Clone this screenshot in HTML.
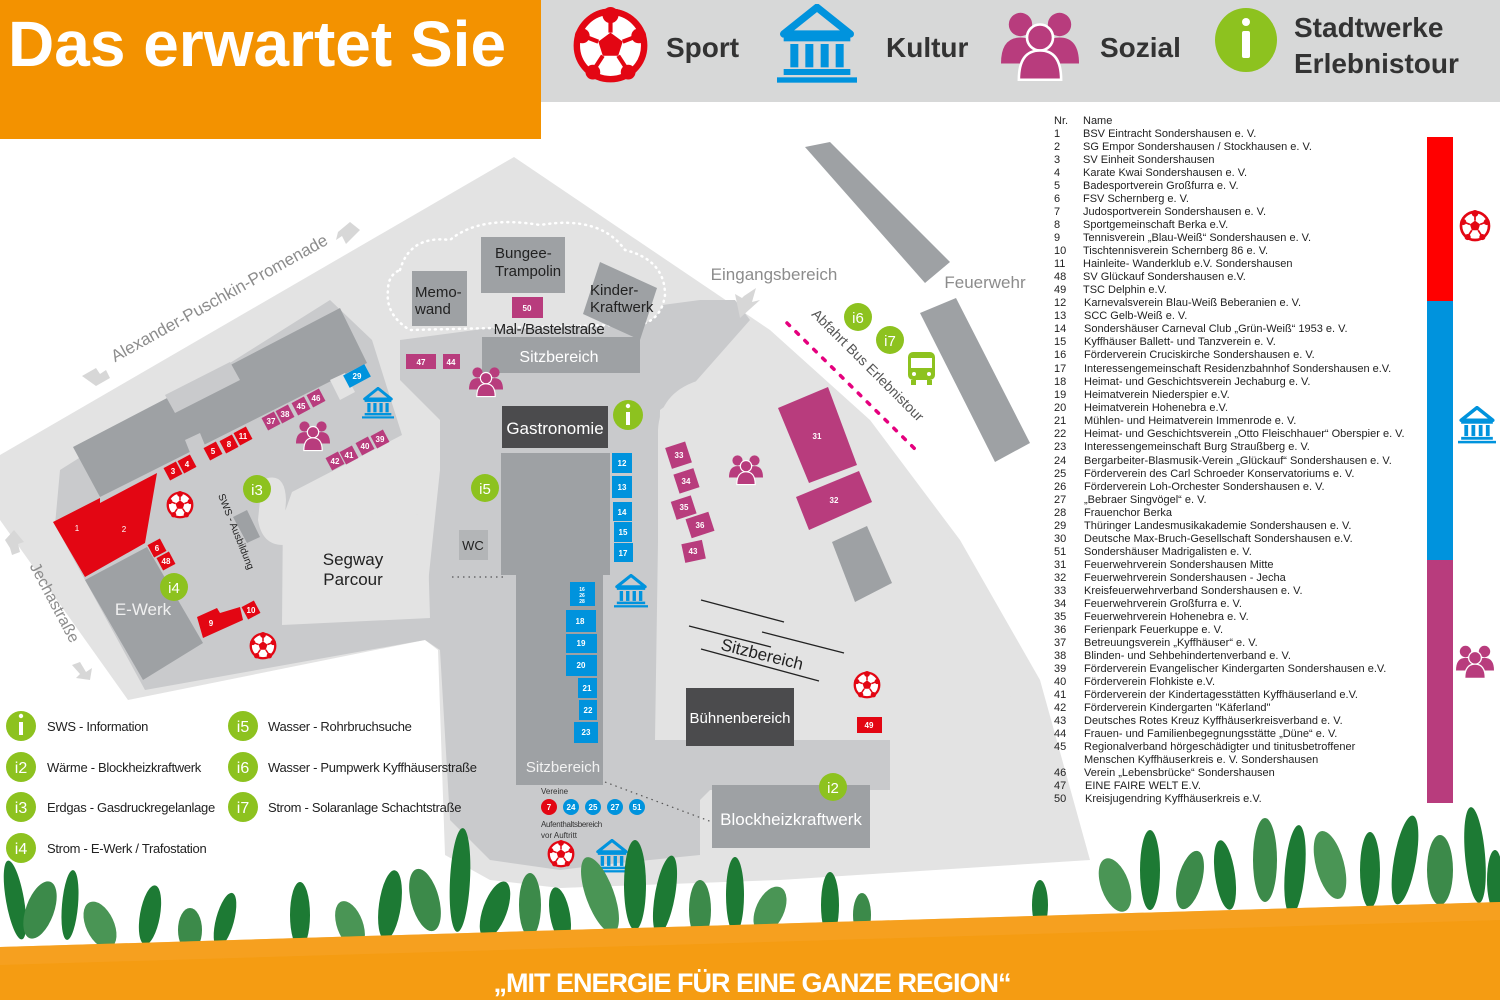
<!DOCTYPE html>
<html><head><meta charset="utf-8"><style>
html,body{margin:0;padding:0;background:#fff}
svg{display:block}
text{font-family:"Liberation Sans",sans-serif}
.l{font-size:11px;fill:#222;letter-spacing:0px}
.w{fill:#fff}
.n{font-size:8px;fill:#fff;text-anchor:middle;font-weight:bold}
.lg{font-size:13px;fill:#222;letter-spacing:-0.3px}
.h{font-size:28px;font-weight:bold;fill:#333}
</style></head><body>
<svg width="1500" height="1000" viewBox="0 0 1500 1000" xmlns="http://www.w3.org/2000/svg">
<defs>
<symbol id="ball" viewBox="-12 -12 24 24"><circle r="10.5" fill="#fff" stroke="#e30613" stroke-width="2"/><polygon points="0,-4 3.8,-1.2 2.4,3.2 -2.4,3.2 -3.8,-1.2" fill="#e30613"/><path d="M0,-4V-9M3.8,-1.2L8.5,-3M2.4,3.2L5.5,8M-2.4,3.2L-5.5,8M-3.8,-1.2L-8.5,-3" stroke="#e30613" stroke-width="1.3"/><circle cx="0" cy="-9.5" r="2.5" fill="#e30613"/><circle cx="8.8" cy="-3" r="2.3" fill="#e30613"/><circle cx="-8.8" cy="-3" r="2.3" fill="#e30613"/><circle cx="5.5" cy="8.3" r="2.3" fill="#e30613"/><circle cx="-5.5" cy="8.3" r="2.3" fill="#e30613"/></symbol>
<symbol id="mus" viewBox="-12 -12 24 24"><path d="M0,-11L-10,-3H10Z" fill="none" stroke="#0093dd" stroke-width="2.2" stroke-linejoin="round"/><rect x="-10" y="-3" width="20" height="2.2" fill="#0093dd"/><rect x="-8" y="0" width="2.4" height="7" fill="#0093dd"/><rect x="-3.5" y="0" width="2.4" height="7" fill="#0093dd"/><rect x="1.1" y="0" width="2.4" height="7" fill="#0093dd"/><rect x="5.6" y="0" width="2.4" height="7" fill="#0093dd"/><rect x="-10" y="7.5" width="20" height="1.8" fill="#0093dd"/><rect x="-12" y="10" width="24" height="1.6" fill="#0093dd"/></symbol>
<symbol id="grp" viewBox="-12 -12 24 24"><circle cx="-6" cy="-6" r="3.6" fill="#b83c7d"/><circle cx="6" cy="-6" r="3.6" fill="#b83c7d"/><path d="M-12,6Q-12,-2 -6,-2Q0,-2 0,6Z" fill="#b83c7d"/><path d="M0,6Q0,-2 6,-2Q12,-2 12,6Z" fill="#b83c7d"/><circle cx="0" cy="-2" r="4" fill="#b83c7d" stroke="#fff" stroke-width="0.8"/><path d="M-6.5,11Q-6.5,2 0,2Q6.5,2 6.5,11Z" fill="#b83c7d" stroke="#fff" stroke-width="0.8"/></symbol>
</defs>

<polygon points="0,455 514,157 770,330 870,420 960,540 1040,680 1090,860 780,880 560,888 490,880 445,855 438,650 425,640 128,700 0,520" fill="#e3e3e3"/>
<g fill="#c9cacc">
<polygon points="60,470 330,300 372,340 402,435 292,492 282,520 285,605 425,612 440,470 440,420 400,380 400,340 700,300 735,300 750,320 690,388 660,410 655,740 890,740 890,790 710,790 700,800 700,855 600,865 560,870 490,860 450,820 440,650 425,640 145,690 55,525"/>
</g>
<path d="M658,430 Q660,392 700,380 L770,345 L870,425 L955,545 L1030,690 L885,740 L700,740 Q658,740 658,700 Z" fill="#e3e3e3"/>
<polygon points="283,510 427,515 430,618 282,625" fill="#e3e3e3"/>
<path d="M262,480 Q285,470 286,500 L283,545 Q262,545 258,520Z" fill="#e3e3e3"/>
<path d="M400,270 Q410,235 450,240 Q480,215 540,225 Q600,215 625,250 Q665,260 665,295 Q660,330 620,325 L410,330 Q385,315 388,290 Q388,275 400,270Z" fill="#e3e3e3" stroke="#fff" stroke-width="2.5" stroke-dasharray="1 5" stroke-linecap="round"/>
<g fill="#9ea1a4">
<polygon points="73,447 340,308 367,363 100,497"/>
<polygon points="805,147 830,142 950,262 925,283"/>
<polygon points="920,313 956,298 1030,443 995,462"/>
<polygon points="832,542 867,526 892,583 855,602"/>
<polygon points="85,580 147,547 203,643 143,680"/>
<polygon points="233,517 247,510 260,537 247,543"/>
<rect x="412" y="271" width="55" height="55"/>
<rect x="481" y="237" width="84" height="56"/>
<polygon points="600,262 657,288 640,340 583,314"/>
<rect x="482" y="337" width="158" height="36"/>
<rect x="459" y="530" width="29" height="30" fill="#b3b5b7"/>
<polygon points="501,453 610,453 610,575 603,575 603,785 516,785 516,575 501,575"/>
<rect x="712" y="785" width="158" height="63"/>
</g>
<polygon points="165,395 230,362 240,380 175,413" fill="#c9cacc"/>
<polygon points="185,440 200,433 215,470 200,478" fill="#c9cacc"/>
<polygon points="330,380 345,373 355,392 340,400" fill="#e3e3e3"/>
<rect x="502" y="406" width="106" height="42" fill="#4b4b4d"/>
<rect x="686" y="688" width="108" height="58" fill="#4b4b4d"/>
<g fill="#e30613">
<polygon points="53,522 100,498 100,503 157,473 145,543 85,577"/>
<polygon points="197,617 217,608 220,613 240,607 243,620 203,638"/>
<rect x="857" y="717" width="25" height="16"/>
</g>
<g fill="#e30613">
<rect x="166" y="464" width="14" height="14" transform="rotate(-28 173 471)"/>
<rect x="180" y="457" width="14" height="14" transform="rotate(-28 187 464)"/>
<rect x="206" y="444" width="14" height="14" transform="rotate(-28 213 451)"/>
<rect x="222" y="437" width="14" height="14" transform="rotate(-28 229 444)"/>
<rect x="236" y="429" width="14" height="14" transform="rotate(-28 243 436)"/>
<rect x="150" y="541" width="14" height="14" transform="rotate(-28 157 548)"/>
<rect x="159" y="554" width="14" height="14" transform="rotate(-28 166 561)"/>
<rect x="244" y="603" width="14" height="14" transform="rotate(-28 251 610)"/>
</g>
<g class="n">
<text x="77" y="531" font-weight="normal">1</text><text x="124" y="532" font-weight="normal">2</text>
<text x="173" y="474">3</text><text x="187" y="467">4</text><text x="213" y="454">5</text><text x="229" y="447">8</text><text x="243" y="439">11</text><text x="157" y="551">6</text><text x="166" y="564">48</text><text x="211" y="626">9</text><text x="251" y="613">10</text><text x="869" y="728">49</text>
</g>
<g fill="#b83c7d">
<rect x="264" y="414" width="14" height="14" transform="rotate(-28 271 421)"/>
<rect x="278" y="407" width="14" height="14" transform="rotate(-28 285 414)"/>
<rect x="294" y="399" width="14" height="14" transform="rotate(-28 301 406)"/>
<rect x="309" y="391" width="14" height="14" transform="rotate(-28 316 398)"/>
<rect x="328" y="454" width="14" height="14" transform="rotate(-28 335 461)"/>
<rect x="342" y="448" width="14" height="14" transform="rotate(-28 349 455)"/>
<rect x="358" y="439" width="14" height="14" transform="rotate(-28 365 446)"/>
<rect x="373" y="432" width="14" height="14" transform="rotate(-28 380 439)"/>
<rect x="512" y="297" width="31" height="21"/>
<rect x="406" y="354" width="30" height="15"/>
<rect x="443" y="354" width="17" height="15"/>
<rect x="668" y="444" width="21" height="22" transform="rotate(-18 679 455)"/>
<rect x="676" y="471" width="21" height="20" transform="rotate(-18 686 481)"/>
<rect x="673" y="498" width="21" height="19" transform="rotate(-18 684 507)"/>
<rect x="688" y="515" width="24" height="20" transform="rotate(-18 700 525)"/>
<rect x="683" y="542" width="21" height="19" transform="rotate(-12 693 551)"/>
<polygon points="778,408 828,387 857,465 809,483"/>
<polygon points="796,497 859,471 872,502 809,530"/>
</g>
<g class="n">
<text x="271" y="424">37</text><text x="285" y="417">38</text><text x="301" y="409">45</text><text x="316" y="401">46</text><text x="335" y="464">42</text><text x="349" y="458">41</text><text x="365" y="449">40</text><text x="380" y="442">39</text>
<text x="527" y="311">50</text><text x="421" y="365">47</text><text x="451" y="365">44</text>
<text x="679" y="458">33</text><text x="686" y="484">34</text><text x="684" y="510">35</text><text x="700" y="528">36</text><text x="693" y="554">43</text>
<text x="817" y="439">31</text><text x="834" y="503">32</text>
</g>
<g fill="#0093dd">
<rect x="345" y="369" width="24" height="14" transform="rotate(-28 357 376)"/>
<rect x="612" y="453" width="20" height="20"/><rect x="612" y="476" width="20" height="22"/><rect x="613" y="502" width="19" height="19"/><rect x="614" y="522" width="18" height="20"/><rect x="614" y="543" width="19" height="19"/>
<rect x="570" y="582" width="25" height="24"/><rect x="566" y="610" width="30" height="22"/><rect x="566" y="634" width="31" height="19"/><rect x="566" y="655" width="31" height="21"/><rect x="578" y="678" width="19" height="20"/><rect x="579" y="700" width="18" height="20"/><rect x="574" y="722" width="24" height="21"/>
</g>
<g class="n" font-weight="normal">
<text x="357" y="379">29</text><text x="622" y="466">12</text><text x="622" y="490">13</text><text x="622" y="515">14</text><text x="623" y="535">15</text><text x="623" y="556">17</text>
<text x="582" y="591" font-size="5">16</text><text x="582" y="597" font-size="5">26</text><text x="582" y="603" font-size="5">28</text>
<text x="580" y="624">18</text><text x="581" y="646">19</text><text x="581" y="668">20</text><text x="587" y="691">21</text><text x="588" y="713">22</text><text x="586" y="735">23</text>
</g>
<circle cx="549" cy="807" r="8" fill="#e30613"/><circle cx="571" cy="807" r="8" fill="#0093dd"/><circle cx="593" cy="807" r="8" fill="#0093dd"/><circle cx="615" cy="807" r="8" fill="#0093dd"/><circle cx="637" cy="807" r="8" fill="#0093dd"/>
<g class="n"><text x="549" y="810">7</text><text x="571" y="810">24</text><text x="593" y="810">25</text><text x="615" y="810">27</text><text x="637" y="810">51</text></g>
<text x="541" y="794" font-size="8" fill="#333">Vereine</text>
<text x="541" y="827" font-size="8" fill="#333" letter-spacing="-0.3">Aufenthaltsbereich</text>
<text x="541" y="838" font-size="8" fill="#333">vor Auftritt</text>
<g stroke="#222" stroke-width="1.3"><line x1="701" y1="600" x2="784" y2="622"/><line x1="689" y1="626" x2="771" y2="647"/><line x1="762" y1="632" x2="844" y2="653"/><line x1="701" y1="649" x2="819" y2="681"/></g>
<line x1="452" y1="577" x2="505" y2="577" stroke="#555" stroke-width="1.2" stroke-dasharray="1.5 4"/>
<line x1="605" y1="782" x2="712" y2="822" stroke="#555" stroke-width="1.2" stroke-dasharray="1.5 4"/>
<line x1="787" y1="323" x2="918" y2="452" stroke="#e5007e" stroke-width="3.5" stroke-dasharray="3.5 9" stroke-linecap="round"/>
<g fill="#222" font-size="15">
<text x="415" y="297">Memo-</text><text x="415" y="314">wand</text>
<text x="495" y="258">Bungee-</text><text x="495" y="276">Trampolin</text>
<text x="590" y="295">Kinder-</text><text x="590" y="312">Kraftwerk</text>
<text x="549" y="334" text-anchor="middle" letter-spacing="-0.4">Mal-/Bastelstraße</text>
<text x="473" y="550" font-size="13" text-anchor="middle">WC</text>
<text x="353" y="565" font-size="17" text-anchor="middle">Segway</text><text x="353" y="585" font-size="17" text-anchor="middle">Parcour</text>
<text x="762" y="660" font-size="17" text-anchor="middle" transform="rotate(14 762 655)">Sitzbereich</text>
<text x="235" y="530" font-size="10" text-anchor="middle" transform="rotate(68 232 530)">SWS - Ausbildung</text>
</g>
<g fill="#fff">
<text x="559" y="362" font-size="16" text-anchor="middle">Sitzbereich</text>
<text x="555" y="434" font-size="17" text-anchor="middle">Gastronomie</text>
<text x="563" y="772" font-size="15" text-anchor="middle" fill="#f2f2f2">Sitzbereich</text>
<text x="740" y="723" font-size="15" text-anchor="middle">Bühnenbereich</text>
<text x="791" y="825" font-size="17" text-anchor="middle">Blockheizkraftwerk</text>
<text x="143" y="615" font-size="17" text-anchor="middle" fill="#f0f0f0">E-Werk</text>
</g>
<g fill="#8c8c8c" font-size="17">
<text x="774" y="280" text-anchor="middle">Eingangsbereich</text>
<text x="985" y="288" text-anchor="middle">Feuerwehr</text>
<text x="222" y="303" text-anchor="middle" transform="rotate(-29 222 303)">Alexander-Puschkin-Promenade</text>
<text x="50" y="605" font-size="16" text-anchor="middle" transform="rotate(62 50 605)">Jechastraße</text>
</g>
<text x="868" y="370" font-size="14" fill="#555" text-anchor="middle" transform="rotate(45 868 365)">Abfahrt Bus Erlebnistour</text>
<g fill="#d7d7d7">
<polygon points="744,296 756,288 752,302 760,300 740,318 735,294 742,298"/>
<polygon points="338,232 350,222 360,230 346,244 342,236 336,240"/>
<polygon points="82,376 96,368 100,374 106,370 110,378 96,386"/>
<polygon points="5,540 14,530 24,542 18,544 20,552 12,555 10,548"/>
<polygon points="72,665 80,662 86,672 92,668 90,680 76,678 80,674"/>
</g>
<use href="#ball" x="166" y="491" width="28" height="28"/>
<use href="#ball" x="249" y="632" width="28" height="28"/>
<use href="#ball" x="853" y="671" width="28" height="28"/>
<use href="#ball" x="547" y="840" width="28" height="28"/>
<use href="#mus" x="362" y="387" width="32" height="32"/>
<use href="#mus" x="614" y="574" width="34" height="34"/>
<use href="#mus" x="595" y="839" width="34" height="34"/>
<use href="#grp" x="296" y="418" width="34" height="34"/>
<use href="#grp" x="469" y="364" width="34" height="34"/>
<use href="#grp" x="729" y="452" width="34" height="34"/>
<g fill="#8dc21f">
<circle cx="257" cy="489" r="14"/><circle cx="174" cy="587" r="14"/><circle cx="485" cy="488" r="14"/><circle cx="628" cy="415" r="15"/><circle cx="858" cy="317" r="14"/><circle cx="890" cy="340" r="14"/><circle cx="833" cy="787" r="14"/>
</g>
<g fill="#fff" font-size="15" text-anchor="middle"><text x="257" y="495">i3</text><text x="174" y="593">i4</text><text x="485" y="494">i5</text><text x="858" y="323">i6</text><text x="890" y="346">i7</text><text x="833" y="793">i2</text></g>
<rect x="626" y="412" width="4" height="13" fill="#fff"/><circle cx="628" cy="406" r="2.2" fill="#fff"/>
<g fill="#8dc21f"><rect x="908" y="352" width="27" height="28" rx="5"/></g>
<rect x="911" y="358" width="21" height="10" fill="#fff"/><circle cx="914" cy="374" r="2" fill="#fff"/><circle cx="929" cy="374" r="2" fill="#fff"/>
<rect x="911" y="380" width="5" height="5" fill="#8dc21f"/><rect x="927" y="380" width="5" height="5" fill="#8dc21f"/>

<g fill="#8dc21f"><circle cx="21" cy="726" r="15"/><circle cx="21" cy="767" r="15"/><circle cx="21" cy="807" r="15"/><circle cx="21" cy="848" r="15"/><circle cx="243" cy="726" r="15"/><circle cx="243" cy="767" r="15"/><circle cx="243" cy="807" r="15"/></g>
<rect x="19" y="722" width="4" height="13" fill="#fff"/><circle cx="21" cy="716" r="2.2" fill="#fff"/>
<g fill="#fff" font-size="16" text-anchor="middle"><text x="21" y="773">i2</text><text x="21" y="813">i3</text><text x="21" y="854">i4</text><text x="243" y="732">i5</text><text x="243" y="773">i6</text><text x="243" y="813">i7</text></g>
<g class="lg">
<text x="47" y="731">SWS - Information</text><text x="47" y="772">Wärme - Blockheizkraftwerk</text><text x="47" y="812">Erdgas - Gasdruckregelanlage</text><text x="47" y="853">Strom - E-Werk / Trafostation</text>
<text x="268" y="731">Wasser - Rohrbruchsuche</text><text x="268" y="772">Wasser - Pumpwerk Kyffhäuserstraße</text><text x="268" y="812">Strom - Solaranlage Schachtstraße</text>
</g>

<g class="l">
<text x="1054" y="124">Nr.</text><text x="1083" y="124">Name</text>
<text x="1054" y="137">1</text><text x="1083" y="137">BSV Eintracht Sondershausen e. V.</text>
<text x="1054" y="150">2</text><text x="1083" y="150">SG Empor Sondershausen / Stockhausen e. V.</text>
<text x="1054" y="163">3</text><text x="1083" y="163">SV Einheit Sondershausen</text>
<text x="1054" y="176">4</text><text x="1083" y="176">Karate Kwai Sondershausen e. V.</text>
<text x="1054" y="189">5</text><text x="1083" y="189">Badesportverein Großfurra e. V.</text>
<text x="1054" y="202">6</text><text x="1083" y="202">FSV Schernberg e. V.</text>
<text x="1054" y="215">7</text><text x="1083" y="215">Judosportverein Sondershausen e. V.</text>
<text x="1054" y="228">8</text><text x="1083" y="228">Sportgemeinschaft Berka e.V.</text>
<text x="1054" y="241">9</text><text x="1083" y="241">Tennisverein „Blau-Weiß“ Sondershausen e. V.</text>
<text x="1054" y="254">10</text><text x="1083" y="254">Tischtennisverein Schernberg 86 e. V.</text>
<text x="1054" y="267">11</text><text x="1083" y="267">Hainleite- Wanderklub e.V. Sondershausen</text>
<text x="1054" y="280">48</text><text x="1083" y="280">SV Glückauf Sondershausen e.V.</text>
<text x="1054" y="293">49</text><text x="1083" y="293">TSC Delphin e.V.</text>
<text x="1054" y="306">12</text><text x="1084" y="306">Karnevalsverein Blau-Weiß Beberanien e. V.</text>
<text x="1054" y="319">13</text><text x="1084" y="319">SCC Gelb-Weiß e. V.</text>
<text x="1054" y="332">14</text><text x="1084" y="332">Sondershäuser Carneval Club „Grün-Weiß“ 1953 e. V.</text>
<text x="1054" y="345">15</text><text x="1084" y="345">Kyffhäuser Ballett- und Tanzverein e. V.</text>
<text x="1054" y="358">16</text><text x="1084" y="358">Förderverein Cruciskirche Sondershausen e. V.</text>
<text x="1054" y="372">17</text><text x="1084" y="372">Interessengemeinschaft Residenzbahnhof Sondershausen e.V.</text>
<text x="1054" y="385">18</text><text x="1084" y="385">Heimat- und Geschichtsverein Jechaburg e. V.</text>
<text x="1054" y="398">19</text><text x="1084" y="398">Heimatverein Niederspier e.V.</text>
<text x="1054" y="411">20</text><text x="1084" y="411">Heimatverein Hohenebra e.V.</text>
<text x="1054" y="424">21</text><text x="1084" y="424">Mühlen- und Heimatverein Immenrode e. V.</text>
<text x="1054" y="437">22</text><text x="1084" y="437">Heimat- und Geschichtsverein „Otto Fleischhauer“ Oberspier e. V.</text>
<text x="1054" y="450">23</text><text x="1084" y="450">Interessengemeinschaft Burg Straußberg e. V.</text>
<text x="1054" y="464">24</text><text x="1084" y="464">Bergarbeiter-Blasmusik-Verein „Glückauf“ Sondershausen e. V.</text>
<text x="1054" y="477">25</text><text x="1084" y="477">Förderverein des Carl Schroeder Konservatoriums e. V.</text>
<text x="1054" y="490">26</text><text x="1084" y="490">Förderverein Loh-Orchester Sondershausen e. V.</text>
<text x="1054" y="503">27</text><text x="1084" y="503">„Bebraer Singvögel“ e. V.</text>
<text x="1054" y="516">28</text><text x="1084" y="516">Frauenchor Berka</text>
<text x="1054" y="529">29</text><text x="1084" y="529">Thüringer Landesmusikakademie Sondershausen e. V.</text>
<text x="1054" y="542">30</text><text x="1084" y="542">Deutsche Max-Bruch-Gesellschaft Sondershausen e.V.</text>
<text x="1054" y="555">51</text><text x="1084" y="555">Sondershäuser Madrigalisten e. V.</text>
<text x="1054" y="568">31</text><text x="1084" y="568">Feuerwehrverein Sondershausen Mitte</text>
<text x="1054" y="581">32</text><text x="1084" y="581">Feuerwehrverein Sondershausen - Jecha</text>
<text x="1054" y="594">33</text><text x="1084" y="594">Kreisfeuerwehrverband Sondershausen e. V.</text>
<text x="1054" y="607">34</text><text x="1084" y="607">Feuerwehrverein Großfurra e. V.</text>
<text x="1054" y="620">35</text><text x="1084" y="620">Feuerwehrverein Hohenebra e. V.</text>
<text x="1054" y="633">36</text><text x="1084" y="633">Ferienpark Feuerkuppe e. V.</text>
<text x="1054" y="646">37</text><text x="1084" y="646">Betreuungsverein „Kyffhäuser“ e. V.</text>
<text x="1054" y="659">38</text><text x="1084" y="659">Blinden- und Sehbehindertenverband e. V.</text>
<text x="1054" y="672">39</text><text x="1084" y="672">Förderverein Evangelischer Kindergarten Sondershausen e.V.</text>
<text x="1054" y="685">40</text><text x="1084" y="685">Förderverein Flohkiste e.V.</text>
<text x="1054" y="698">41</text><text x="1084" y="698">Förderverein der Kindertagesstätten Kyffhäuserland e.V.</text>
<text x="1054" y="711">42</text><text x="1084" y="711">Förderverein Kindergarten "Käferland"</text>
<text x="1054" y="724">43</text><text x="1084" y="724">Deutsches Rotes Kreuz Kyffhäuserkreisverband e. V.</text>
<text x="1054" y="737">44</text><text x="1084" y="737">Frauen- und Familienbegegnungsstätte „Düne“ e. V.</text>
<text x="1054" y="750">45</text><text x="1084" y="750">Regionalverband hörgeschädigter und tinitusbetroffener</text>
<text x="1084" y="763">Menschen Kyffhäuserkreis e. V. Sondershausen</text>
<text x="1054" y="776">46</text><text x="1084" y="776">Verein „Lebensbrücke“ Sondershausen</text>
<text x="1054" y="789">47</text><text x="1085" y="789">EINE FAIRE WELT E.V.</text>
<text x="1054" y="802">50</text><text x="1085" y="802">Kreisjugendring Kyffhäuserkreis e.V.</text>
</g>
<rect x="1427" y="137" width="26" height="164" fill="#ff0000"/>
<rect x="1427" y="301" width="26" height="259" fill="#0093dd"/>
<rect x="1427" y="560" width="26" height="243" fill="#b83c7d"/>
<use href="#ball" x="1459" y="210" width="32" height="32"/>
<use href="#mus" x="1458" y="406" width="38" height="38"/>
<use href="#grp" x="1456" y="642" width="38" height="38"/>

<rect x="540" y="0" width="960" height="102" fill="#d7d8d8"/>
<rect x="0" y="0" width="541" height="139" fill="#f39200"/>
<text x="8" y="66" font-size="64" font-weight="bold" fill="#fff" letter-spacing="0">Das erwartet Sie</text>
<ellipse cx="610" cy="45" rx="34" ry="35" fill="#fff" stroke="#e30613" stroke-width="3"/>
<use href="#ball" x="572" y="7" width="77" height="77"/>
<text x="666" y="57" class="h">Sport</text>
<use href="#mus" x="770" y="4" width="94" height="80"/>
<text x="886" y="57" class="h">Kultur</text>
<use href="#grp" x="996" y="5" width="88" height="78"/>
<text x="1100" y="57" class="h">Sozial</text>
<ellipse cx="1246" cy="40" rx="31" ry="32" fill="#8dc21f"/>
<rect x="1242" y="31" width="8" height="27" rx="2" fill="#fff"/><circle cx="1246" cy="22" r="4" fill="#fff"/>
<text x="1294" y="37" class="h" font-size="27">Stadtwerke</text>
<text x="1294" y="73" class="h" font-size="27">Erlebnistour</text>

<g fill="#1d7a34">
<ellipse cx="15" cy="900" rx="9" ry="40" transform="rotate(-10 15 900)"/>
<ellipse cx="40" cy="910" rx="14" ry="30" fill="#3c8a4a" transform="rotate(20 40 910)"/>
<ellipse cx="70" cy="905" rx="8" ry="35" transform="rotate(5 70 905)"/>
<ellipse cx="100" cy="925" rx="14" ry="25" fill="#4a9555" transform="rotate(-25 100 925)"/>
<ellipse cx="150" cy="915" rx="10" ry="30" transform="rotate(10 150 915)"/>
<ellipse cx="190" cy="930" rx="12" ry="22" fill="#3c8a4a"/>
<ellipse cx="225" cy="920" rx="9" ry="28" transform="rotate(15 225 920)"/>
<ellipse cx="300" cy="915" rx="10" ry="33"/>
<ellipse cx="350" cy="925" rx="13" ry="25" fill="#4a9555" transform="rotate(-20 350 925)"/>
<ellipse cx="390" cy="905" rx="11" ry="35" transform="rotate(8 390 905)"/>
<ellipse cx="425" cy="900" rx="14" ry="32" fill="#3c8a4a" transform="rotate(-15 425 900)"/>
<ellipse cx="460" cy="880" rx="10" ry="52" transform="rotate(3 460 880)"/>
<ellipse cx="495" cy="910" rx="12" ry="30" transform="rotate(20 495 910)"/>
<ellipse cx="530" cy="905" rx="11" ry="32" fill="#3c8a4a"/>
<ellipse cx="560" cy="915" rx="10" ry="28" transform="rotate(-10 560 915)"/>
<ellipse cx="600" cy="895" rx="14" ry="40" fill="#4a9555" transform="rotate(-20 600 895)"/>
<ellipse cx="635" cy="885" rx="11" ry="45"/>
<ellipse cx="665" cy="895" rx="10" ry="40" transform="rotate(10 665 895)"/>
<ellipse cx="700" cy="910" rx="11" ry="30" fill="#3c8a4a"/>
<ellipse cx="735" cy="895" rx="9" ry="38"/>
<ellipse cx="770" cy="910" rx="14" ry="25" fill="#4a9555" transform="rotate(25 770 910)"/>
<ellipse cx="830" cy="905" rx="9" ry="33"/>
<ellipse cx="862" cy="915" rx="9" ry="22" fill="#3c8a4a"/>
<ellipse cx="1040" cy="905" rx="8" ry="25"/>
<ellipse cx="1115" cy="885" rx="14" ry="28" fill="#4a9555" transform="rotate(-20 1115 885)"/>
<ellipse cx="1150" cy="870" rx="10" ry="40"/>
<ellipse cx="1190" cy="880" rx="12" ry="30" fill="#3c8a4a" transform="rotate(15 1190 880)"/>
<ellipse cx="1225" cy="875" rx="10" ry="35" transform="rotate(-8 1225 875)"/>
<ellipse cx="1265" cy="860" rx="12" ry="42" fill="#3c8a4a"/>
<ellipse cx="1295" cy="870" rx="10" ry="45" transform="rotate(5 1295 870)"/>
<ellipse cx="1330" cy="865" rx="14" ry="35" fill="#4a9555" transform="rotate(-15 1330 865)"/>
<ellipse cx="1370" cy="870" rx="10" ry="38"/>
<ellipse cx="1405" cy="860" rx="11" ry="45" transform="rotate(10 1405 860)"/>
<ellipse cx="1440" cy="870" rx="13" ry="35" fill="#3c8a4a"/>
<ellipse cx="1475" cy="855" rx="10" ry="48" transform="rotate(-5 1475 855)"/>
<ellipse cx="1495" cy="880" rx="8" ry="30"/>
</g>
<polygon points="0,947 1500,902 1500,1000 0,1000" fill="#f59c12"/>
<polygon points="0,947 1500,902 1500,920 0,965" fill="#f7a428" opacity="0.6"/>
<text x="752" y="992" font-size="27" font-weight="bold" fill="#fff" text-anchor="middle" letter-spacing="-1">„MIT ENERGIE FÜR EINE GANZE REGION“</text>
</svg>
</body></html>
